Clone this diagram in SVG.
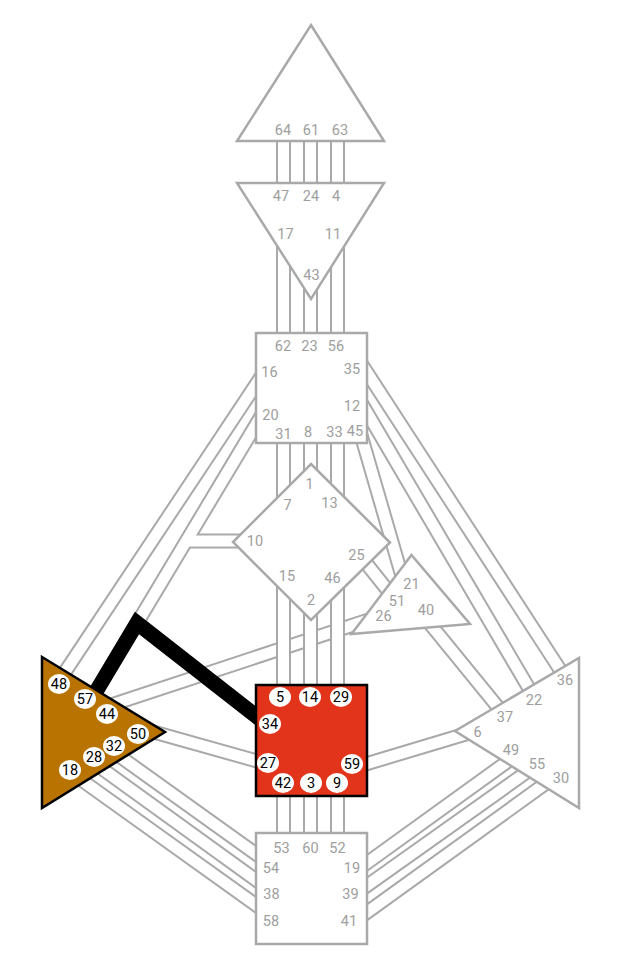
<svg xmlns="http://www.w3.org/2000/svg" width="624" height="976" viewBox="0 0 624 976">
<style>
.g{fill:none;stroke:#a9a9a9;stroke-width:15}
.w{fill:none;stroke:#fff;stroke-width:11}
.def{fill:none;stroke:#000;stroke-width:15;stroke-linejoin:miter}
.c{fill:#fff;stroke:#a9a9a9;stroke-width:2.5;stroke-linejoin:miter}
.cd{stroke:#000;stroke-width:2.5}
.lbl{font-family:Roboto,'Liberation Sans',sans-serif;font-size:14.5px;fill:#9e9e9e;text-anchor:middle}
.bd{fill:#fff}
.bt{font-family:Roboto,'Liberation Sans',sans-serif;font-size:14.5px;fill:#000;text-anchor:middle}
</style>
<defs>
<path id="ch-16-48" d="M262,375.5 L55,687"/>
<path id="ch-20-57" d="M263,413 L91,700"/>
<path id="ch-10-stub" d="M245,541 L184,541"/>
<path id="ch-j-34" d="M137,623 L263,721.5"/>
<path id="ch-26-44" d="M100,708.6 L372,618.8"/>
<path id="ch-50-27" d="M150,731 L263,762.7"/>
<path id="ch-25-51" d="M350,543 L397,602"/>
<path id="ch-45-21" d="M361,435 L406,590"/>
<path id="ch-35-36" d="M355,354 L570,685"/>
<path id="ch-12-22" d="M357,395.5 L538.7,705"/>
<path id="ch-40-37" d="M423.8,616.2 L507,718.3"/>
<path id="ch-59-6" d="M355,767.2 L470,732.8"/>
<path id="ch-19-49" d="M514.7,756.3 L360,868"/>
<path id="ch-39-55" d="M533.1,767.5 L360,890.6"/>
<path id="ch-41-30" d="M551.4,779.3 L360,917.4"/>
<path id="ch-32-54" d="M111.3,750.3 L262,858.3"/>
<path id="ch-28-38" d="M94.8,763.5 L262,884.3"/>
<path id="ch-18-58" d="M75.2,775.5 L262,909.3"/>
<path id="ch-64-47" d="M283.5,135 V192"/>
<path id="ch-61-24" d="M310.5,135 V192"/>
<path id="ch-63-4" d="M337.5,135 V192"/>
<path id="ch-17-62" d="M283.5,200 V340"/>
<path id="ch-43-23" d="M310.5,200 V340"/>
<path id="ch-11-56" d="M337.5,200 V340"/>
<path id="ch-31-7" d="M283.5,437 V530"/>
<path id="ch-8-1" d="M310.5,437 V500"/>
<path id="ch-33-13" d="M337.5,437 V530"/>
<path id="ch-15-5" d="M283.5,560 V692"/>
<path id="ch-2-14" d="M310.5,590 V692"/>
<path id="ch-46-29" d="M337.5,560 V692"/>
<path id="ch-53-42" d="M283.5,790 V840"/>
<path id="ch-60-3" d="M310.5,790 V840"/>
<path id="ch-52-9" d="M337.5,790 V840"/>
</defs>
<rect width="624" height="976" fill="#fff"/>
<g id="connectors">
<g class="g">
<use href="#ch-16-48"/><use href="#ch-20-57"/><use href="#ch-10-stub"/><use href="#ch-j-34"/>
<use href="#ch-26-44"/><use href="#ch-50-27"/><use href="#ch-25-51"/><use href="#ch-45-21"/>
<use href="#ch-35-36"/><use href="#ch-12-22"/><use href="#ch-40-37"/><use href="#ch-59-6"/>
<use href="#ch-19-49"/><use href="#ch-39-55"/><use href="#ch-41-30"/>
<use href="#ch-32-54"/><use href="#ch-28-38"/><use href="#ch-18-58"/>
</g>
<g class="w">
<use href="#ch-16-48"/><use href="#ch-20-57"/><use href="#ch-10-stub"/><use href="#ch-j-34"/>
<use href="#ch-26-44"/><use href="#ch-50-27"/><use href="#ch-25-51"/><use href="#ch-45-21"/>
<use href="#ch-35-36"/><use href="#ch-12-22"/><use href="#ch-40-37"/><use href="#ch-59-6"/>
<use href="#ch-19-49"/><use href="#ch-39-55"/><use href="#ch-41-30"/>
<use href="#ch-32-54"/><use href="#ch-28-38"/><use href="#ch-18-58"/>
</g>
<g class="g">
<use href="#ch-64-47"/><use href="#ch-61-24"/><use href="#ch-63-4"/>
<use href="#ch-17-62"/><use href="#ch-43-23"/><use href="#ch-11-56"/>
<use href="#ch-31-7"/><use href="#ch-8-1"/><use href="#ch-33-13"/>
<use href="#ch-15-5"/><use href="#ch-2-14"/><use href="#ch-46-29"/>
<use href="#ch-53-42"/><use href="#ch-60-3"/><use href="#ch-52-9"/>
</g>
<g class="w">
<use href="#ch-64-47"/><use href="#ch-61-24"/><use href="#ch-63-4"/>
<use href="#ch-17-62"/><use href="#ch-43-23"/><use href="#ch-11-56"/>
<use href="#ch-31-7"/><use href="#ch-8-1"/><use href="#ch-33-13"/>
<use href="#ch-15-5"/><use href="#ch-2-14"/><use href="#ch-46-29"/>
<use href="#ch-53-42"/><use href="#ch-60-3"/><use href="#ch-52-9"/>
</g>
<path id="ch-57-34" class="def" d="M91,700 L137,623 L263,721.5"/>
</g>

<g id="head">
<polygon class="c" points="311,25 384,141 237,141"/>
<text class="lbl" x="283" y="135">64</text><text class="lbl" x="311" y="135">61</text><text class="lbl" x="340" y="135">63</text>
</g>
<g id="ajna">
<polygon class="c" points="237,183 384,183 311,299"/>
<text class="lbl" x="281" y="201">47</text><text class="lbl" x="311" y="201">24</text><text class="lbl" x="336" y="201">4</text>
<text class="lbl" x="285.5" y="238.5">17</text><text class="lbl" x="333" y="238.5">11</text>
<text class="lbl" x="311.5" y="280">43</text>
</g>
<g id="throat">
<rect class="c" x="256" y="333" width="111" height="110"/>
<text class="lbl" x="283" y="351">62</text><text class="lbl" x="309.5" y="351">23</text><text class="lbl" x="336" y="351">56</text>
<text class="lbl" x="269.5" y="377">16</text><text class="lbl" x="352" y="373.5">35</text>
<text class="lbl" x="270.5" y="420">20</text><text class="lbl" x="352" y="411">12</text>
<text class="lbl" x="283.5" y="439">31</text><text class="lbl" x="308" y="437">8</text><text class="lbl" x="334.5" y="437">33</text><text class="lbl" x="355" y="436">45</text>
</g>
<g id="g-center">
<polygon class="c" points="311,464 390,542.5 311,620 233,542"/>
<text class="lbl" x="309.5" y="489">1</text><text class="lbl" x="287.5" y="510">7</text><text class="lbl" x="329.5" y="508">13</text>
<text class="lbl" x="255" y="546">10</text><text class="lbl" x="356.5" y="559.5">25</text>
<text class="lbl" x="287" y="581">15</text><text class="lbl" x="332.5" y="582.5">46</text><text class="lbl" x="311" y="605">2</text>
</g>
<g id="heart">
<polygon class="c" points="411.5,555 470,624 351.5,634"/>
<text class="lbl" x="411.5" y="588.5">21</text><text class="lbl" x="397" y="605.5">51</text>
<text class="lbl" x="383.5" y="621">26</text><text class="lbl" x="426" y="615">40</text>
</g>
<g id="solar-plexus">
<polygon class="c" points="579,658 579,808 455,731"/>
<text class="lbl" x="565" y="685">36</text><text class="lbl" x="534" y="704.5">22</text><text class="lbl" x="505" y="721.5">37</text>
<text class="lbl" x="477.5" y="736.5">6</text><text class="lbl" x="511" y="754.5">49</text><text class="lbl" x="537" y="768.5">55</text><text class="lbl" x="561" y="782.5">30</text>
</g>
<g id="root">
<rect class="c" x="256" y="833" width="111" height="111"/>
<text class="lbl" x="281.5" y="852.5">53</text><text class="lbl" x="310.5" y="852.5">60</text><text class="lbl" x="337.5" y="852.5">52</text>
<text class="lbl" x="271" y="872.5">54</text><text class="lbl" x="352" y="872.5">19</text>
<text class="lbl" x="271.5" y="898.5">38</text><text class="lbl" x="350.5" y="899">39</text>
<text class="lbl" x="271" y="926">58</text><text class="lbl" x="349" y="926">41</text>
</g>
<g id="spleen">
<polygon class="c cd" style="fill:#b87300" points="42,657 165,732 42,808"/>
<ellipse class="bd" cx="59" cy="684" rx="11" ry="10"/><text class="bt" x="59" y="689">48</text>
<ellipse class="bd" cx="85" cy="699" rx="11" ry="10"/><text class="bt" x="85" y="704">57</text>
<ellipse class="bd" cx="107" cy="714" rx="11" ry="10"/><text class="bt" x="107" y="719">44</text>
<ellipse class="bd" cx="138" cy="734" rx="11" ry="10"/><text class="bt" x="138" y="739">50</text>
<ellipse class="bd" cx="114" cy="746" rx="11" ry="10"/><text class="bt" x="114" y="751">32</text>
<ellipse class="bd" cx="94" cy="757" rx="11" ry="10"/><text class="bt" x="94" y="762">28</text>
<ellipse class="bd" cx="70" cy="770" rx="11" ry="10"/><text class="bt" x="70" y="775">18</text>
</g>
<g id="sacral">
<rect class="c cd" style="fill:#e2341b" x="256" y="685" width="111" height="111"/>
<ellipse class="bd" cx="280" cy="697" rx="11" ry="10"/><text class="bt" x="280" y="702">5</text>
<ellipse class="bd" cx="310" cy="697" rx="11" ry="10"/><text class="bt" x="310" y="702">14</text>
<ellipse class="bd" cx="341" cy="697" rx="11" ry="10"/><text class="bt" x="341" y="702">29</text>
<ellipse class="bd" cx="270" cy="724" rx="11" ry="10"/><text class="bt" x="270" y="729">34</text>
<ellipse class="bd" cx="268" cy="763" rx="11" ry="10"/><text class="bt" x="268" y="768">27</text>
<ellipse class="bd" cx="352" cy="764" rx="11" ry="10"/><text class="bt" x="352" y="769">59</text>
<ellipse class="bd" cx="283" cy="783" rx="11" ry="10"/><text class="bt" x="283" y="788">42</text>
<ellipse class="bd" cx="311" cy="783" rx="11" ry="10"/><text class="bt" x="311" y="788">3</text>
<ellipse class="bd" cx="337" cy="783" rx="11" ry="10"/><text class="bt" x="337" y="788">9</text>
</g>
</svg>
